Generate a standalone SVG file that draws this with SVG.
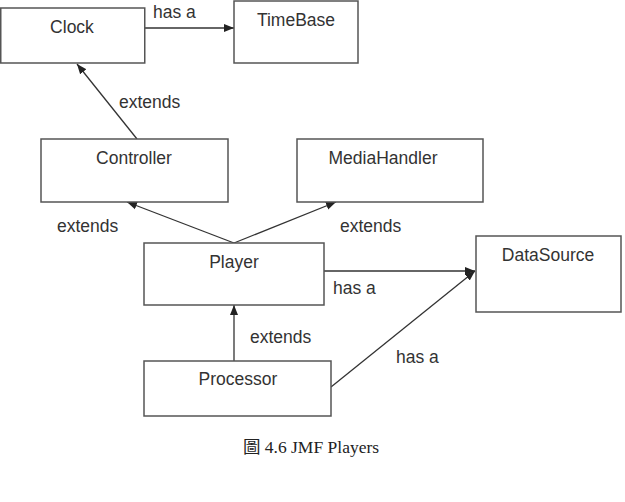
<svg xmlns="http://www.w3.org/2000/svg" width="625" height="502" viewBox="0 0 625 502">
<style>
.box{fill:#fff;stroke:#555;stroke-width:1.5}
.t{font-family:"Liberation Sans",Arial,sans-serif;font-size:17.5px;fill:#333}
.c{text-anchor:middle}
.e{stroke:#333;stroke-width:1.3;fill:none;marker-end:url(#ah)}
.cap{font-family:"Liberation Serif","Noto Sans CJK TC",serif;font-size:17.5px;fill:#222;text-anchor:middle}
</style>
<defs>
<marker id="ah" viewBox="0 0 10 10" refX="10" refY="5" markerWidth="10" markerHeight="10" markerUnits="userSpaceOnUse" orient="auto">
<path d="M0,1 L10,5 L0,9 Z" fill="#222"/>
</marker>
</defs>
<rect width="625" height="502" fill="#fff"/>
<g id="connectors">
<line class="e" x1="145" y1="28" x2="234" y2="28"/>
<line class="e" x1="137" y1="139" x2="77" y2="64"/>
<line class="e" x1="234" y1="243" x2="127" y2="202"/>
<line class="e" x1="234" y1="243" x2="336" y2="202"/>
<line class="e" x1="324" y1="271" x2="475" y2="271"/>
<line class="e" x1="234" y1="361" x2="234" y2="305"/>
<line class="e" x1="331" y1="387" x2="475" y2="271"/>
<text class="t" x="153" y="18">has a</text>
<text class="t" x="119" y="108">extends</text>
<text class="t" x="57" y="232">extends</text>
<text class="t" x="340" y="232">extends</text>
<text class="t" x="333" y="294">has a</text>
<text class="t" x="250" y="343">extends</text>
<text class="t" x="396" y="363">has a</text>
</g>
<g id="clock"><rect class="box" x="0.75" y="8" width="144" height="55"/><text class="t c" x="72" y="33">Clock</text></g>
<g id="timebase"><rect class="box" x="234" y="1" width="124" height="62"/><text class="t c" x="296" y="26">TimeBase</text></g>
<g id="controller"><rect class="box" x="41" y="139" width="187" height="63"/><text class="t c" x="134" y="164">Controller</text></g>
<g id="mediahandler"><rect class="box" x="297" y="139" width="186" height="63"/><text class="t c" x="383" y="164">MediaHandler</text></g>
<g id="player"><rect class="box" x="144" y="243" width="180" height="62"/><text class="t c" x="234" y="268">Player</text></g>
<g id="datasource"><rect class="box" x="476" y="236" width="145" height="76"/><text class="t c" x="548" y="261">DataSource</text></g>
<g id="processor"><rect class="box" x="144" y="361" width="187" height="55"/><text class="t c" x="238" y="385">Processor</text></g>
<text class="cap" x="311" y="453">圖 4.6 JMF Players</text>
</svg>
